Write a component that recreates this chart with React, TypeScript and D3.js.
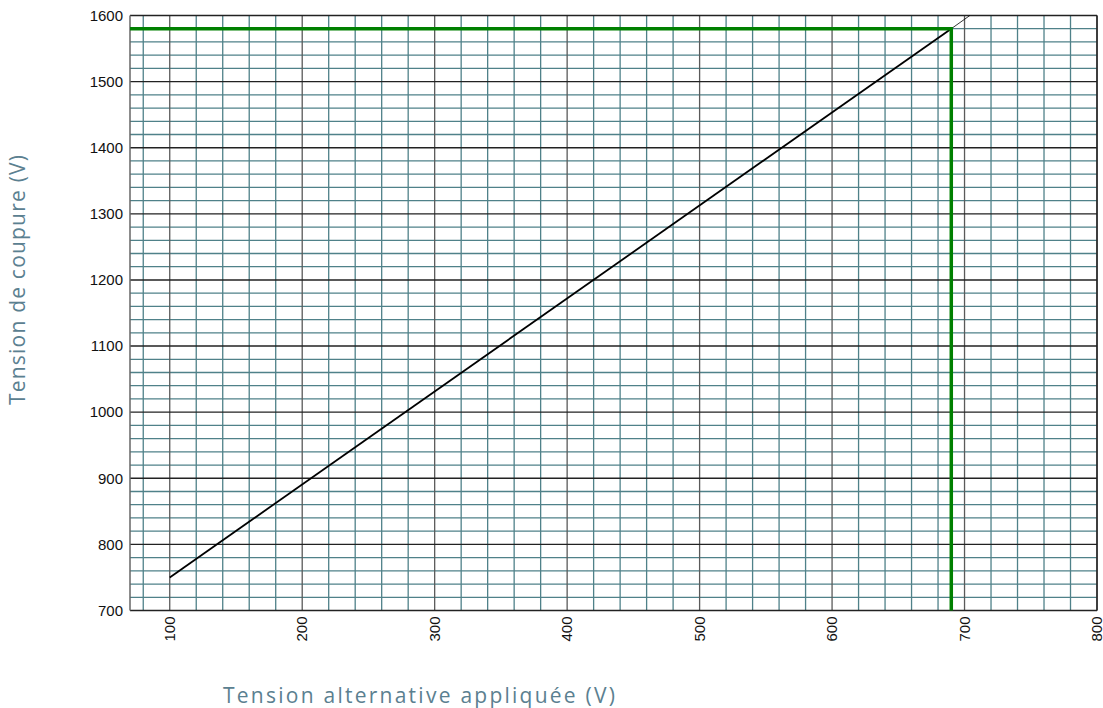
import React from 'react';
import * as d3 from 'd3';

// Axis ticks
const xMajorTicks = [100, 200, 300, 400, 500, 600, 700, 800];
const yMajorTicks = [700, 800, 900, 1000, 1100, 1200, 1300, 1400, 1500, 1600];
const xMinorTicks = [80, 120, 140, 160, 180, 220, 240, 260, 280, 320, 340, 360, 380, 420, 440, 460, 480, 520, 540, 560, 580, 620, 640, 660, 680, 720, 740, 760, 780];
const yMinorTicks = [720, 740, 760, 780, 820, 840, 860, 880, 920, 940, 960, 980, 1020, 1040, 1060, 1080, 1120, 1140, 1160, 1180, 1220, 1240, 1260, 1280, 1320, 1340, 1360, 1380, 1420, 1440, 1460, 1480, 1520, 1540, 1560, 1580];

// Characteristic line (applied AC voltage -> cut-off voltage)
const lineVac = [100, 690];
const lineVcut = [750, 1580];
// thin extension up to the top of the chart
const extVac = [690, 704];
const extVcut = [1580, 1600];

// reading shown in green
const readVac = 690;
const readVcut = 1580;

const W = 1103;
const H = 708;
const margin = { left: 130, right: 6, top: 15.5, bottom: 97.5 };

const App: React.FC = () => {
  const x = d3.scaleLinear().domain([70, 800]).range([margin.left, W - margin.right]);
  const y = d3.scaleLinear().domain([700, 1600]).range([H - margin.bottom, margin.top]);

  const line = d3.line<[number, number]>()
    .x(d => x(d[0]))
    .y(d => y(d[1]));

  const mainPts = lineVac.map((v, i) => [v, lineVcut[i]] as [number, number]);
  const extPts = extVac.map((v, i) => [v, extVcut[i]] as [number, number]);

  const x0 = x.range()[0], x1 = x.range()[1];
  const y0 = y.range()[0], y1 = y.range()[1];

  const minorColor = '#4f8189';
  const font = 'Liberation Sans, Arial, sans-serif';
  const titleFont = 'Open Sans, sans-serif';
  const titleColor = '#5b8090';

  return (
    <svg width={W} height={H} style={{ position: 'absolute', left: 0, top: 0, background: '#fff' }}>
      {/* minor grid */}
      <g stroke={minorColor} strokeWidth={1.3}>
        {xMinorTicks.map(t => (
          <line key={'xm' + t} x1={x(t)} x2={x(t)} y1={y0} y2={y1} />
        ))}
        {yMinorTicks.map(t => (
          <line key={'ym' + t} x1={x0} x2={x1} y1={y(t)} y2={y(t)} />
        ))}
      </g>
      {/* major grid */}
      <g>
        {xMajorTicks.map(t => (
          <line key={'xM' + t} x1={x(t)} x2={x(t)} y1={y0} y2={y1} stroke="#5a5a5a" strokeWidth={1.3} />
        ))}
        {yMajorTicks.map(t => (
          <line key={'yM' + t} x1={x0} x2={x1} y1={y(t)} y2={y(t)} stroke="#222" strokeWidth={1.4} />
        ))}
        <line x1={x0} x2={x0} y1={y0} y2={y1} stroke="#666" strokeWidth={1.5} />
        <line x1={x1} x2={x1} y1={y0} y2={y1} stroke="#222" strokeWidth={1.5} />
      </g>

      {/* characteristic */}
      <path d={line(extPts) || ''} fill="none" stroke="#000" strokeWidth={0.8} />
      <path d={line(mainPts) || ''} fill="none" stroke="#000" strokeWidth={1.8} />

      {/* reading */}
      <path
        d={line([[70, readVcut], [readVac, readVcut], [readVac, 700]]) || ''}
        fill="none"
        stroke="#008000"
        strokeWidth={3.5}
      />

      {/* y tick labels */}
      <g fontFamily={font} fontSize={15} fill="#111" textAnchor="end">
        {yMajorTicks.map(t => (
          <text key={'yl' + t} x={x0 - 7} y={y(t)} dy="0.35em">{t}</text>
        ))}
      </g>
      {/* x tick labels, rotated */}
      <g fontFamily={font} fontSize={15} fill="#111" textAnchor="end">
        {xMajorTicks.map(t => (
          <text key={'xl' + t} transform={`translate(${x(t)},${y0 + 6}) rotate(-90)`} dy="0.35em">{t}</text>
        ))}
      </g>

      {/* axis titles */}
      <text x={419} y={703} textAnchor="middle" fontFamily={titleFont} fontWeight={400} fontSize={21}
        fill={titleColor} textLength={392} lengthAdjust="spacing">
        Tension alternative appliquée (V)
      </text>
      <text transform="translate(25,280) rotate(-90)" textAnchor="middle" fontFamily={titleFont} fontWeight={400}
        fontSize={21} fill={titleColor} textLength={250} lengthAdjust="spacing">
        Tension de coupure (V)
      </text>
    </svg>
  );
};

export default App;
